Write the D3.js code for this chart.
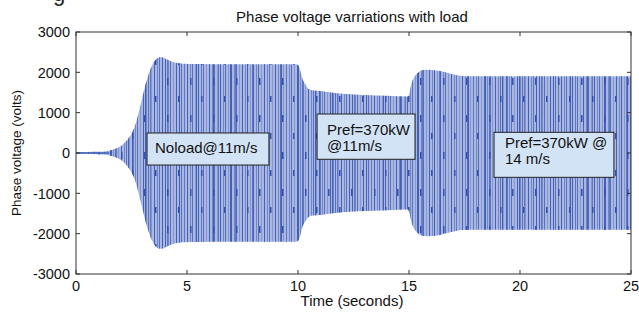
<!DOCTYPE html>
<html>
<head>
<meta charset="utf-8">
<script src="https://cdn.jsdelivr.net/npm/d3@7"></script>
<style>
body{margin:0;background:#fff;}
svg{display:block;font-family:"Liberation Sans",Arial,sans-serif;}
</style>
</head>
<body>
<div id="chart"></div>
<script>
// envelope of the phase voltage (seconds, volts)
const timeSec = [0, 0.5, 1.0, 1.3, 1.5, 1.8, 2.1, 2.3, 2.5, 2.7, 2.85, 3.0, 3.15, 3.3, 3.45, 3.6, 3.75, 3.9, 4.1, 4.4, 4.8, 5.5, 7, 9, 9.9,
                 10.0, 10.1, 10.2, 10.35, 10.5, 10.7, 11.0, 11.5, 12, 13, 14, 14.95,
                 15.0, 15.1, 15.2, 15.35, 15.5, 15.75, 16.0, 16.4, 16.9, 17.4, 18, 20, 25];
const amplitude = [25, 25, 28, 40, 60, 110, 205, 320, 480, 750, 1070, 1400, 1735, 2000, 2200, 2320, 2375, 2370, 2320, 2250, 2215, 2205, 2200, 2200, 2200,
                   2180, 2050, 1840, 1680, 1580, 1550, 1540, 1500, 1470, 1440, 1420, 1400,
                   1450, 1700, 1850, 1960, 2030, 2065, 2060, 2030, 1960, 1910, 1900, 1900, 1900];

const xTicks = [0, 5, 10, 15, 20, 25];
const yTicks = [-3000, -2000, -1000, 0, 1000, 2000, 3000];

// text boxes (data coordinates)
const noteLines = [["Noload@11m/s"], ["Pref=370kW", "@11m/s"], ["Pref=370kW @", "14 m/s"]];
const noteT0 = [3.2, 10.86, 18.83];
const noteT1 = [8.69, 15.27, 24.23];
const noteV0 = [496, 967, 513];
const noteV1 = [-298, -156, -603];
const noteTextT = [3.56, 11.31, 19.32];
const noteTextV = [0, 446, 112];

const w = 639, h = 312;
const svg = d3.select("#chart").append("svg").attr("width", w).attr("height", h);

const x = d3.scaleLinear().domain([0, 25]).range([76, 631]);
const y = d3.scaleLinear().domain([-3000, 3000]).range([274, 32]);

// stripes that stand in for the dense sine wave
const defs = svg.append("defs");
const p1 = defs.append("pattern").attr("id", "stripeA").attr("patternUnits", "userSpaceOnUse")
    .attr("width", 11).attr("height", 10);
p1.append("rect").attr("width", 11).attr("height", 10).attr("fill", "#aab7e0");
[[0, "#4562b8"], [3, "#7086c9"], [5, "#5470be"], [8, "#8597d0"]].forEach(s => {
    p1.append("rect").attr("x", s[0]).attr("width", 1).attr("height", 10).attr("fill", s[1]);
});
const p2 = defs.append("pattern").attr("id", "stripeB").attr("patternUnits", "userSpaceOnUse")
    .attr("width", 17).attr("height", 10);
p2.append("rect").attr("x", 9).attr("width", 1).attr("height", 10).attr("fill", "#4260b6");
p2.append("rect").attr("x", 14).attr("width", 1).attr("height", 10).attr("fill", "#6078c2");
const p3 = defs.append("pattern").attr("id", "dashes").attr("patternUnits", "userSpaceOnUse")
    .attr("width", 23).attr("height", 37);
p3.append("rect").attr("x", 6).attr("y", 4).attr("width", 1.5).attr("height", 7).attr("fill", "#3152b0");
p3.append("rect").attr("x", 17).attr("y", 22).attr("width", 1.5).attr("height", 6).attr("fill", "#3152b0");

const env = timeSec.map((t, i) => ({t: t, a: amplitude[i]}));
const area = d3.area()
    .x(d => x(d.t))
    .y0(d => y(-d.a))
    .y1(d => y(d.a))
    .curve(d3.curveMonotoneX);

["stripeA", "stripeB", "dashes"].forEach(id => {
    svg.append("path").datum(env).attr("d", area).attr("fill", "url(#" + id + ")");
});
svg.append("path").datum(env.filter(d => d.t <= 1.6))
    .attr("d", d3.line().x(d => x(d.t)).y(y(0)))
    .attr("stroke", "#4562b8").attr("stroke-width", 1.5).attr("fill", "none");

// axes box with inward ticks, matlab style
const axisCol = "#333";
svg.append("rect").attr("x", x(0)).attr("y", y(3000))
    .attr("width", x(25) - x(0)).attr("height", y(-3000) - y(3000))
    .attr("fill", "none").attr("stroke", axisCol).attr("stroke-width", 1);

const tl = 4;
xTicks.forEach(t => {
    svg.append("line").attr("x1", x(t)).attr("x2", x(t)).attr("y1", y(-3000)).attr("y2", y(-3000) - tl).attr("stroke", axisCol);
    svg.append("line").attr("x1", x(t)).attr("x2", x(t)).attr("y1", y(3000)).attr("y2", y(3000) + tl).attr("stroke", axisCol);
    svg.append("text").attr("x", x(t)).attr("y", 291).attr("text-anchor", "middle")
        .attr("font-size", 14.5).attr("fill", "#111").text(t);
});
yTicks.forEach(v => {
    svg.append("line").attr("x1", x(0)).attr("x2", x(0) + tl).attr("y1", y(v)).attr("y2", y(v)).attr("stroke", axisCol);
    svg.append("line").attr("x1", x(25)).attr("x2", x(25) - tl).attr("y1", y(v)).attr("y2", y(v)).attr("stroke", axisCol);
    svg.append("text").attr("x", 70).attr("y", y(v)).attr("dy", "0.36em").attr("text-anchor", "end")
        .attr("font-size", 14.5).attr("fill", "#111").text(v);
});

// annotation boxes
noteLines.forEach((lines, i) => {
    svg.append("rect")
        .attr("x", x(noteT0[i])).attr("y", y(noteV0[i]))
        .attr("width", x(noteT1[i]) - x(noteT0[i])).attr("height", y(noteV1[i]) - y(noteV0[i]))
        .attr("fill", "#d2e3f5").attr("stroke", "#222").attr("stroke-width", 1);
    lines.forEach((s, j) => {
        svg.append("text").attr("x", x(noteTextT[i])).attr("y", y(noteTextV[i]) + j * 15.5)
            .attr("font-size", 15).attr("fill", "#111").text(s);
    });
});

// titles
svg.append("text").attr("x", 352).attr("y", 22).attr("text-anchor", "middle")
    .attr("font-size", 15).attr("fill", "#111").text("Phase voltage varriations with load");
svg.append("text").attr("x", 352).attr("y", 306).attr("text-anchor", "middle")
    .attr("font-size", 15).attr("fill", "#111").text("Time (seconds)");
svg.append("text").attr("transform", "translate(21," + y(0) + ") rotate(-90)").attr("text-anchor", "middle")
    .attr("font-size", 13.5).attr("fill", "#111").text("Phase voltage (volts)");

// cut-off letter from the page above the figure
svg.append("text").attr("x", 53).attr("y", 1).attr("font-size", 22).attr("fill", "#222").text("g");
</script>
</body>
</html>
